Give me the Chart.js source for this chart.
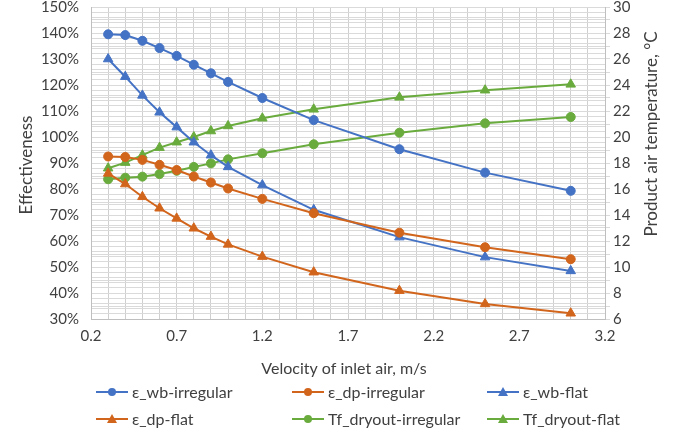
<!DOCTYPE html>
<html>
<head>
<meta charset="utf-8">
<script src="https://cdn.jsdelivr.net/npm/chart.js@4.4.0/dist/chart.umd.min.js"></script>
<style>
  html, body { margin: 0; padding: 0; background: #fff; }
  #wrap { width: 673px; height: 446px; }
</style>
</head>
<body>
<div id="wrap"><canvas id="effChart" width="673" height="446"></canvas></div>
<script>
// velocity of inlet air, m/s
const velocity = [0.3, 0.4, 0.5, 0.6, 0.7, 0.8, 0.9, 1.0, 1.2, 1.5, 2.0, 2.5, 3.0];

// effectiveness, %
const wbIrregular = [139.5, 139.2, 137.0, 134.2, 131.2, 127.8, 124.5, 121.2, 115.0, 106.5, 95.3, 86.3, 79.3];
const dpIrregular = [92.5, 92.3, 91.2, 89.3, 87.3, 84.8, 82.5, 80.2, 76.2, 70.7, 63.2, 57.6, 53.0];
const wbFlat = [130.0, 123.2, 116.0, 109.5, 103.8, 98.0, 93.0, 88.5, 81.5, 72.0, 61.5, 53.8, 48.5];
const dpFlat = [86.0, 81.9, 77.0, 72.6, 68.7, 64.9, 61.7, 58.7, 54.0, 48.0, 40.9, 35.8, 32.2];

// product air temperature, °C
const tfIrregular = [16.75, 16.87, 16.95, 17.15, 17.4, 17.7, 17.97, 18.28, 18.75, 19.44, 20.33, 21.05, 21.54];
const tfFlat = [17.6, 18.03, 18.6, 19.18, 19.6, 20.0, 20.46, 20.85, 21.44, 22.13, 23.05, 23.6, 24.05];

const seriesNames = ['ε_wb-irregular', 'ε_dp-irregular', 'ε_wb-flat', 'ε_dp-flat', 'Tf_dryout-irregular', 'Tf_dryout-flat'];
const xTitle = 'Velocity of inlet air, m/s';
const yTitle = 'Effectiveness';
const y1Title = 'Product air temperature, °C';

const blue = '#4472C4';
const orange = '#D2651C';
const green = '#6AAB3E';
const textColor = '#404040';
const fontFamily = 'Lato, "Open Sans", sans-serif';

function pts(ys) {
	return velocity.map(function(x, i) { return { x: x, y: ys[i] }; });
}

function makeSet(label, ys, color, shape, axis) {
	return {
		label: label,
		data: pts(ys),
		borderColor: color,
		backgroundColor: color,
		borderWidth: 2,
		pointStyle: shape,
		pointRadius: shape === 'triangle' ? 5.5 : 4.5,
		pointBorderWidth: 1,
		yAxisID: axis,
		tension: 0
	};
}

const datasets = [
	makeSet(seriesNames[0], wbIrregular, blue, 'circle', 'y'),
	makeSet(seriesNames[1], dpIrregular, orange, 'circle', 'y'),
	makeSet(seriesNames[2], wbFlat, blue, 'triangle', 'y'),
	makeSet(seriesNames[3], dpFlat, orange, 'triangle', 'y'),
	makeSet(seriesNames[4], tfIrregular, green, 'circle', 'y1'),
	makeSet(seriesNames[5], tfFlat, green, 'triangle', 'y1')
];

// axis titles + legend drawn by hand so they sit where Excel put them
const excelBits = {
	id: 'excelBits',
	afterDraw: function(chart) {
		const ctx = chart.ctx;
		const area = chart.chartArea;
		ctx.save();
		ctx.fillStyle = textColor;
		ctx.textAlign = 'center';
		ctx.textBaseline = 'middle';

		ctx.font = '16px ' + fontFamily;
		ctx.fillText(xTitle, (area.left + area.right) / 2 - 4, 369);

		ctx.font = '17px ' + fontFamily;
		ctx.save();
		ctx.translate(27, 165);
		ctx.rotate(-Math.PI / 2);
		ctx.fillText(yTitle, 0, 0);
		ctx.restore();

		ctx.save();
		ctx.translate(652, 134);
		ctx.rotate(-Math.PI / 2);
		ctx.fillText(y1Title, 0, 0);
		ctx.restore();

		const colX = [96, 292, 487];
		const rowY = [392, 419];
		ctx.font = '16px ' + fontFamily;
		chart.data.datasets.forEach(function(ds, i) {
			const x0 = colX[i % 3];
			const y0 = rowY[Math.floor(i / 3)];
			ctx.strokeStyle = ds.borderColor;
			ctx.fillStyle = ds.borderColor;
			ctx.lineWidth = 2;
			ctx.beginPath();
			ctx.moveTo(x0, y0);
			ctx.lineTo(x0 + 32, y0);
			ctx.stroke();
			const cx = x0 + 16;
			ctx.beginPath();
			if (ds.pointStyle === 'triangle') {
				ctx.moveTo(cx, y0 - 5);
				ctx.lineTo(cx + 5, y0 + 4);
				ctx.lineTo(cx - 5, y0 + 4);
				ctx.closePath();
			} else {
				ctx.arc(cx, y0, 4, 0, Math.PI * 2);
			}
			ctx.fill();
			ctx.fillStyle = textColor;
			ctx.textAlign = 'left';
			ctx.fillText(ds.label, x0 + 36, y0 + 1);
		});
		ctx.restore();
	}
};

function noEdgePad(scale) {
	scale.paddingTop = 0;
	scale.paddingBottom = 0;
	scale.paddingLeft = 0;
	scale.paddingRight = 0;
}

let canvas = document.getElementById('effChart');

new Chart(canvas, {
	type: 'line',
	data: { datasets: datasets },
	plugins: [excelBits],
	options: {
		responsive: false,
		animation: false,
		layout: { padding: { top: 7, left: 0, right: 0, bottom: 97 } },
		plugins: {
			legend: { display: false },
			tooltip: { enabled: false }
		},
		scales: {
			x: {
				type: 'linear',
				min: 0.2,
				max: 3.2,
				ticks: {
					stepSize: 0.1,
					autoSkip: false,
					maxRotation: 0,
					color: textColor,
					font: { family: fontFamily, size: 15 },
					padding: 8,
					callback: function(v, i) { return i % 5 === 0 ? v.toFixed(1) : ''; }
				},
				grid: { color: '#cfcfcf', lineWidth: 1, drawTicks: false },
				border: { color: '#bfbfbf' },
				afterFit: function(scale) { scale.height = 30; noEdgePad(scale); }
			},
			y: {
				position: 'left',
				min: 30,
				max: 150,
				ticks: {
					stepSize: 2,
					autoSkip: false,
					color: textColor,
					font: { family: fontFamily, size: 15 },
					padding: 12,
					callback: function(v) { return v % 10 === 0 ? v + '%' : ''; }
				},
				grid: { color: '#dadada', lineWidth: 1, drawTicks: false },
				border: { color: '#bfbfbf' },
				afterFit: function(scale) { scale.width = 91; noEdgePad(scale); }
			},
			y1: {
				position: 'right',
				min: 6,
				max: 30,
				ticks: {
					stepSize: 1,
					autoSkip: false,
					color: textColor,
					font: { family: fontFamily, size: 15 },
					padding: 3,
					callback: function(v) { return v % 2 === 0 ? String(v) : ''; }
				},
				grid: { color: '#dadada', lineWidth: 1, drawOnChartArea: true, tickLength: 5 },
				border: { color: '#bfbfbf' },
				afterFit: function(scale) { scale.width = 68; noEdgePad(scale); }
			}
		}
	}
});
</script>
</body>
</html>
